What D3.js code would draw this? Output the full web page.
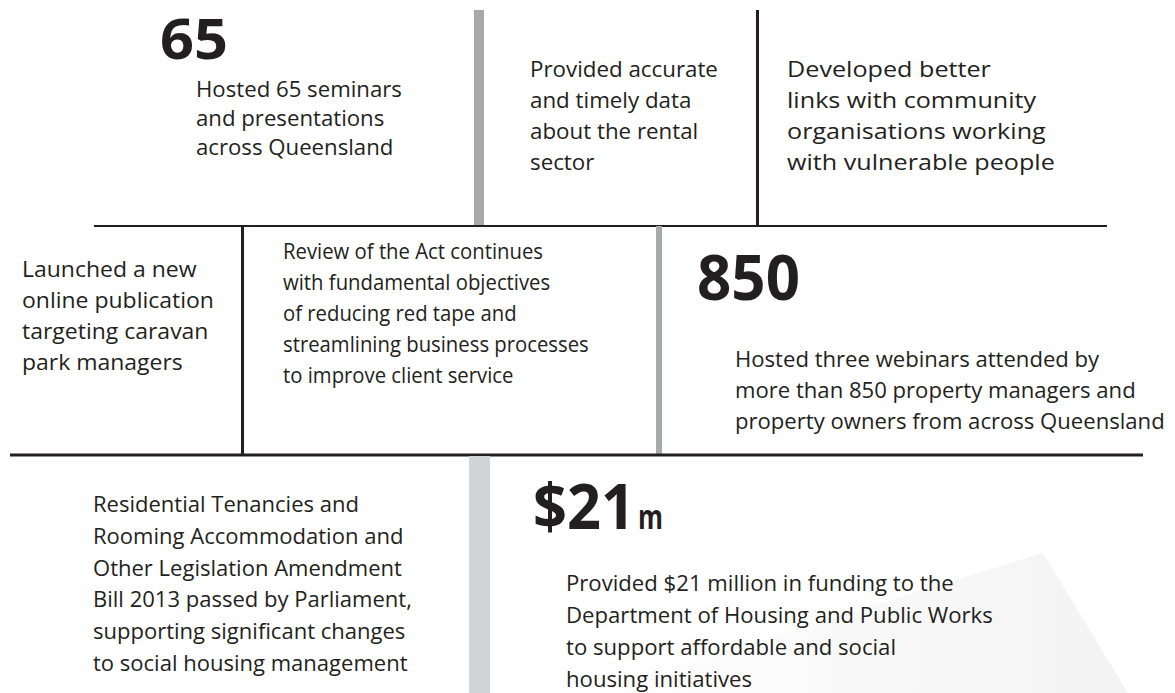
<!DOCTYPE html>
<html>
<head>
<meta charset="utf-8">
<script src="https://cdn.jsdelivr.net/npm/d3@7"></script>
<style>
    html, body { margin: 0; padding: 0; background: #fff; }
    #graph { width: 1175px; height: 693px; overflow: hidden; }
    text { fill: #231f20; font-family: "Open Sans", "Noto Sans", sans-serif; }
</style>
</head>
<body>
<div id="graph"></div>
<script>
"use strict";
(function() {
    const svgSize = {
        width : 1175,
        height: 693,
    };

    // headline figures
    const figures = ["65", "850", "$21"];
    const figureSuffix = ["", "", "m"];

    // text blocks, one array of lines each
    const seminarsText = ["Hosted 65 seminars", "and presentations", "across Queensland"];
    const dataText = ["Provided accurate", "and timely data", "about the rental", "sector"];
    const linksText = ["Developed better", "links with community", "organisations working", "with vulnerable people"];
    const caravanText = ["Launched a new", "online publication", "targeting caravan", "park managers"];
    const reviewText = ["Review of the Act continues", "with fundamental objectives", "of reducing red tape and",
                        "streamlining business processes", "to improve client service"];
    const webinarText = ["Hosted three webinars attended by", "more than 850 property managers and",
                         "property owners from across Queensland"];
    const billText = ["Residential Tenancies and", "Rooming Accommodation and", "Other Legislation Amendment",
                      "Bill 2013 passed by Parliament,", "supporting significant changes", "to social housing management"];
    const fundingText = ["Provided $21 million in funding to the", "Department of Housing and Public Works",
                         "to support affordable and social", "housing initiatives"];

    const blocks = [seminarsText, dataText, linksText, caravanText, reviewText, webinarText, billText, fundingText];

    // layout: x, first baseline, line step, font size, width of the widest line
    const blockLayout = [
        {x: 196, y: 97,  step: 29,   size: 21, width: 206},
        {x: 530, y: 77,  step: 31,   size: 22, width: 188},
        {x: 787, y: 77,  step: 31,   size: 22, width: 268},
        {x: 22,  y: 277, step: 31,   size: 22, width: 192},
        {x: 283, y: 259, step: 31,   size: 22, width: 306},
        {x: 735, y: 367, step: 31,   size: 21, width: 430},
        {x: 93,  y: 512, step: 31.8, size: 21, width: 319},
        {x: 566, y: 591, step: 32,   size: 22, width: 427},
    ];
    const figureLayout = [
        {x: 160, y: 59,  size: 55, width: 68},
        {x: 697, y: 300, size: 62, width: 103},
        {x: 533, y: 529, size: 62, width: 102, suffixSize: 34, suffixWidth: 25},
    ];

    // dividers: [x1, y1, x2, y2, colour]
    const dividers = [
        [474, 10, 484, 226, "#a7a9ac"],
        [756, 10, 759, 226, "#231f20"],
        [94, 225, 1107, 227, "#231f20"],
        [241, 226, 244, 455, "#231f20"],
        [656, 226, 662, 455, "#a7a9ac"],
        [10, 453.5, 1143, 456.5, "#231f20"],
        [469, 456, 490, 693, "#d1d3d4"],
    ];

    window.addEventListener("load", init);

    function init() {
        let svg = d3.select("#graph")
                    .append("svg")
                        .attr("width", svgSize.width)
                        .attr("height", svgSize.height);
        drawBackdrop(svg);
        drawDividers(svg);
        drawBlocks(svg);
        drawFigures(svg);
    }

    function drawBackdrop(svg) {
        let grad = svg.append("defs")
                      .append("linearGradient")
                        .attr("id", "fade")
                        .attr("x1", "0").attr("y1", "0")
                        .attr("x2", "1").attr("y2", "0");
        grad.append("stop").attr("offset", "0").attr("stop-color", "#ffffff");
        grad.append("stop").attr("offset", "1").attr("stop-color", "#f3f3f4");
        svg.append("polygon")
            .attr("points", "1043,553 1128,693 590,693")
            .attr("fill", "url(#fade)");
    }

    function drawDividers(svg) {
        svg.selectAll("rect.divider")
            .data(dividers)
            .enter()
            .append("rect")
                .attr("class", "divider")
                .attr("x", d => d[0])
                .attr("y", d => d[1])
                .attr("width", d => d[2] - d[0])
                .attr("height", d => d[3] - d[1])
                .attr("fill", d => d[4]);
    }

    function drawBlocks(svg) {
        blocks.forEach((lines, i) => {
            let lay = blockLayout[i];
            let g = svg.append("g");
            let txt = g.selectAll("text")
                .data(lines)
                .enter()
                .append("text")
                    .attr("x", 0)
                    .attr("y", (d, j) => lay.y + j * lay.step)
                    .attr("font-size", lay.size)
                    .text(d => d);
            // squeeze the block so its widest line matches the original
            let widest = d3.max(txt.nodes(), n => n.getComputedTextLength());
            let sx = lay.width / widest;
            g.attr("transform", "translate(" + lay.x + ",0) scale(" + sx + ",1)");
        });
    }

    function drawFigures(svg) {
        figures.forEach((fig, i) => {
            let lay = figureLayout[i];
            let g = svg.append("g");
            let t = g.append("text")
                .attr("x", 0)
                .attr("y", lay.y)
                .attr("font-size", lay.size)
                .attr("font-weight", 700)
                .text(fig);
            let sx = lay.width / t.node().getComputedTextLength();
            g.attr("transform", "translate(" + lay.x + ",0) scale(" + sx + ",1)");
            if (figureSuffix[i] != "") {
                let g2 = svg.append("g");
                let s = g2.append("text")
                    .attr("x", 0)
                    .attr("y", lay.y)
                    .attr("font-size", lay.suffixSize)
                    .attr("font-weight", 700)
                    .text(figureSuffix[i]);
                let sx2 = lay.suffixWidth / s.node().getComputedTextLength();
                g2.attr("transform", "translate(" + (lay.x + lay.width + 3) + ",0) scale(" + sx2 + ",1)");
            }
        });
    }

})();
</script>
</body>
</html>
